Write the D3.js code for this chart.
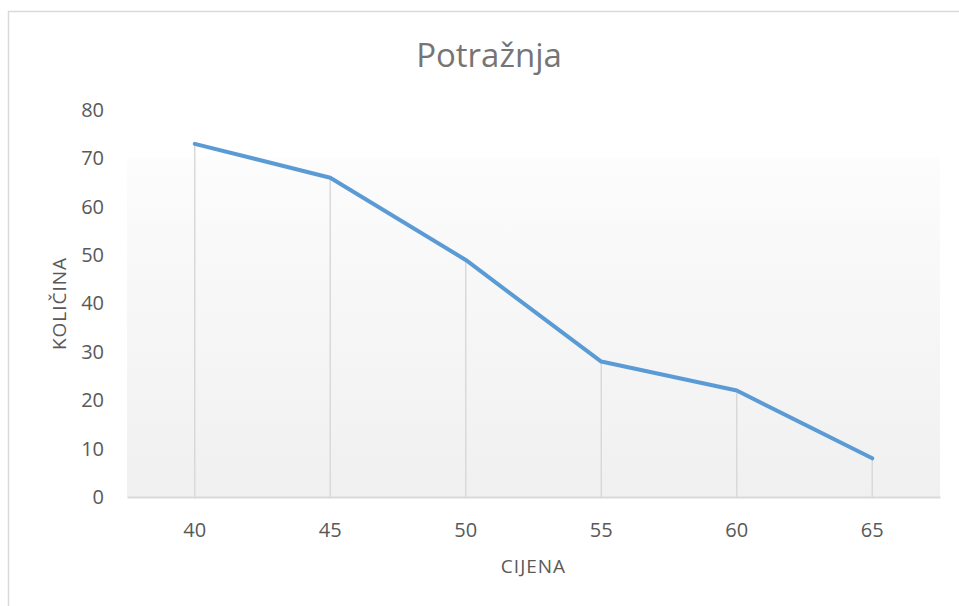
<!DOCTYPE html>
<html>
<head>
<meta charset="utf-8">
<script src="https://cdn.jsdelivr.net/npm/d3@7"></script>
<style>
  body { margin: 0; background: #fff; }
  text { font-family: "Open Sans", "Noto Sans", sans-serif; }
</style>
</head>
<body>
<svg></svg>
<script>
var width = 959,
    height = 606;

// data
var cijena = ["40", "45", "50", "55", "60", "65"];
var kolicina = [73, 66, 49, 28, 22, 8];
var yTicks = [0, 10, 20, 30, 40, 50, 60, 70, 80];

var margin = {top: 110, right: 19, bottom: 109, left: 127};
var plotW = width - margin.left - margin.right,
    plotH = height - margin.top - margin.bottom;

var svg = d3.select("svg")
    .attr("width", width)
    .attr("height", height);

// chart frame (only left/top visible in the picture)
svg.append("rect")
    .attr("x", 8.5).attr("y", 11.5)
    .attr("width", 980).attr("height", 640)
    .attr("fill", "none")
    .attr("stroke", "#d9d9d9")
    .attr("stroke-width", 1.5);

var defs = svg.append("defs");
var grad = defs.append("linearGradient")
    .attr("id", "bg")
    .attr("x1", 0).attr("y1", 0).attr("x2", 0).attr("y2", 1);
grad.append("stop").attr("offset", "0%").attr("stop-color", "#ffffff");
grad.append("stop").attr("offset", "12%").attr("stop-color", "#ffffff");
grad.append("stop").attr("offset", "13%").attr("stop-color", "#fcfcfc");
grad.append("stop").attr("offset", "100%").attr("stop-color", "#f0f0f0");

var x = d3.scaleBand()
    .domain(cijena)
    .range([0, plotW]);
var y = d3.scaleLinear()
    .domain([0, 80])
    .range([plotH, 0]);

var g = svg.append("g")
    .attr("transform", "translate(" + margin.left + "," + margin.top + ")");

g.append("rect")
    .attr("width", plotW)
    .attr("height", plotH)
    .attr("fill", "url(#bg)");

// drop lines
g.selectAll("line.drop")
    .data(kolicina)
    .enter()
    .append("line")
    .attr("class", "drop")
    .attr("x1", (d, i) => x(cijena[i]) + x.bandwidth() / 2)
    .attr("x2", (d, i) => x(cijena[i]) + x.bandwidth() / 2)
    .attr("y1", d => y(d))
    .attr("y2", plotH)
    .attr("stroke", "#d9d9d9")
    .attr("stroke-width", 1.5);

// x axis
var xAxis = g.append("g")
    .attr("transform", "translate(0," + plotH + ")")
    .call(d3.axisBottom(x).tickSize(0).tickPadding(26));
xAxis.select(".domain").attr("stroke", "#d9d9d9").attr("stroke-width", 2);
xAxis.selectAll("text")
    .attr("fill", "#595959")
    .style("font-size", "20px")
    .style("font-family", "Open Sans, sans-serif");

// y axis
var yAxis = g.append("g")
    .call(d3.axisLeft(y).tickValues(yTicks).tickSize(0).tickPadding(23));
yAxis.select(".domain").remove();
yAxis.selectAll("text")
    .attr("fill", "#595959")
    .style("font-size", "20px")
    .style("font-family", "Open Sans, sans-serif");

// the line
var line = d3.line()
    .x((d, i) => x(cijena[i]) + x.bandwidth() / 2)
    .y(d => y(d));

g.append("path")
    .datum(kolicina)
    .attr("d", line)
    .attr("fill", "none")
    .attr("stroke", "#5b9bd5")
    .attr("stroke-width", 4)
    .attr("stroke-linejoin", "round")
    .attr("stroke-linecap", "round");

// title and axis titles
svg.append("text")
    .attr("x", 489)
    .attr("y", 67)
    .attr("text-anchor", "middle")
    .attr("fill", "#757575")
    .style("font-size", "33px")
    .text("Potražnja");

svg.append("text")
    .attr("x", margin.left + plotW / 2)
    .attr("y", 573)
    .attr("text-anchor", "middle")
    .attr("fill", "#595959")
    .style("font-size", "19px")
    .style("letter-spacing", "1px")
    .text("CIJENA");

svg.append("text")
    .attr("transform", "translate(66," + (margin.top + plotH / 2) + ") rotate(-90)")
    .attr("text-anchor", "middle")
    .attr("fill", "#595959")
    .style("font-size", "19px")
    .style("letter-spacing", "1px")
    .text("KOLIČINA");
</script>
</body>
</html>
